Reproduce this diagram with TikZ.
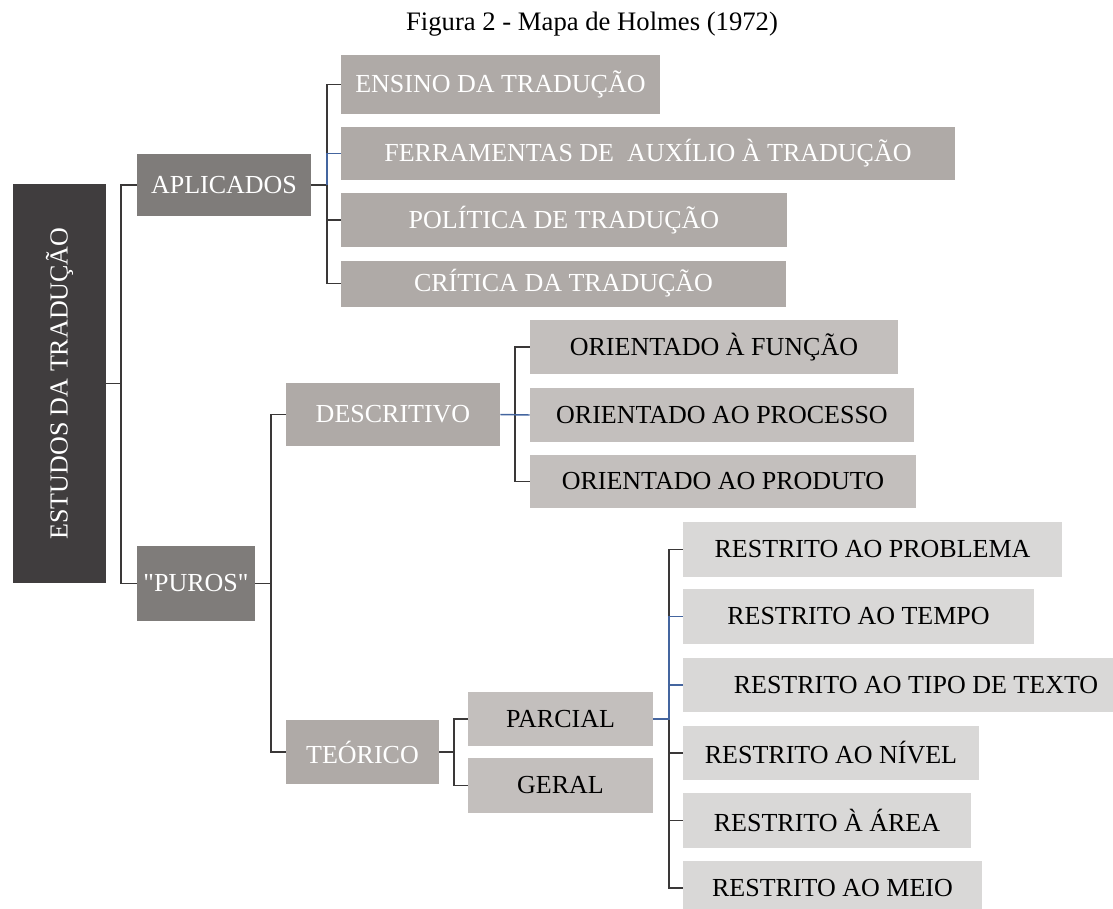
\documentclass[tikz,border=0pt]{standalone}
\usepackage{fontspec}
\setmainfont{Liberation Serif}
% same face without the TeX input mapping, so that " stays a straight quote
\newfontfamily\plainserif{Liberation Serif}
\begin{document}
\begin{tikzpicture}[x=0.75pt,y=-0.75pt,
  bx/.style 2 args={rectangle, inner sep=0pt, minimum width=#1*0.75pt, minimum height=#2*0.75pt, font=\fontsize{19.5}{23}\selectfont},
  lvA/.style={fill=cRoot, text=white},
  lvB/.style={fill=cOne, text=white},
  lvC/.style={fill=cTwo, text=white},
  lvD/.style={fill=cThree, text=black},
  lvE/.style={fill=cFour, text=black},
  link/.style={draw=cLine, line width=1.1pt},
  hilite/.style={draw=cBlue, line width=1.1pt}]
\definecolor{cRoot}{HTML}{403D3E}
\definecolor{cOne}{HTML}{7F7C7A}
\definecolor{cTwo}{HTML}{AFAAA7}
\definecolor{cThree}{HTML}{C3BFBD}
\definecolor{cFour}{HTML}{D9D8D7}
\definecolor{cLine}{HTML}{3A3838}
\definecolor{cBlue}{HTML}{44659F}

\useasboundingbox (0,0) rectangle (1113,908);

% title
\node[font=\fontsize{20}{24}\selectfont] (title) at (592,24) {Figura 2 - Mapa de Holmes (1972)};

% root and first level
\node[bx={93}{399}, lvA] (root) at (59.5,383.5) {};
\node[text=white, rotate=90, font=\fontsize{19.5}{23}\selectfont] (rootlabel) at (root.center) {ESTUDOS DA TRADUÇÃO};
\node[bx={174}{62}, lvB] (apl) at (224,185) {APLICADOS};
\node[bx={118}{75}, lvB] (puros) at (196,583.5) {\plainserif "PUROS"};

% applied branch
\node[bx={319}{59}, lvC] (ensino) at (500.5,84.5) {ENSINO DA TRADUÇÃO};
\node[bx={614}{53}, lvC] (ferr) at (648,153.5) {FERRAMENTAS DE \ AUXÍLIO À TRADUÇÃO};
\node[bx={446}{54}, lvC] (pol) at (564,220) {POLÍTICA DE TRADUÇÃO};
\node[bx={445}{46}, lvC] (crit) at (563.5,283.5) {CRÍTICA DA TRADUÇÃO};

% pure branch
\node[bx={214}{63}, lvC] (desc) at (393,414.5) {DESCRITIVO};
\node[bx={153}{64}, lvC] (teor) at (362.5,752) {TEÓRICO};

\node[bx={368}{54}, lvD] (func) at (714,347) {ORIENTADO À FUNÇÃO};
\node[bx={384}{54}, lvD] (proc) at (722,415) {ORIENTADO AO PROCESSO};
\node[bx={386}{53}, lvD] (prod) at (723,481.5) {ORIENTADO AO PRODUTO};

\node[bx={185}{54}, lvD] (parc) at (560.5,719) {PARCIAL};
\node[bx={185}{55}, lvD] (geral) at (560.5,785.5) {GERAL};

\node[bx={379}{55}, lvE] (r1) at (872.5,549.5) {RESTRITO AO PROBLEMA};
\node[bx={351}{55}, lvE] (r2) at (858.5,616.5) {RESTRITO AO TEMPO};
\node[bx={466}{54}, lvE] (r3) at (916,685) {RESTRITO AO TIPO DE TEXTO};
\node[bx={296}{54}, lvE] (r4) at (831,753) {RESTRITO AO NÍVEL};
\node[bx={288}{55}, lvE] (r5) at (827,820.5) {RESTRITO À ÁREA};
\node[bx={299}{54}, lvE] (r6) at (832.5,888) {RESTRITO AO MEIO};

% bus lines of the brackets
\coordinate (b0) at (121,0);
\coordinate (b1) at (327,0);
\coordinate (b2) at (271,0);
\coordinate (b3) at (515,0);
\coordinate (b4) at (454,0);
\coordinate (b5) at (669,0);

% root bracket
\draw[link] (root.east) -- (root.east -| b0);
\draw[link] (apl.west) -- (apl.west -| b0) |- (puros.west);

% applied bracket
\draw[link] (apl.east) -- (apl.east -| b1);
\draw[link] (ensino.west) -- (ensino.west -| b1) |- (crit.west);
\draw[link] (pol.west) -- (pol.west -| b1);
\draw[hilite] (apl.east -| b1) -- (ferr.west -| b1) -- (ferr.west);

% pure bracket
\draw[link] (puros.east) -- (puros.east -| b2);
\draw[link] (desc.west) -- (desc.west -| b2) |- (teor.west);

% descriptive bracket
\draw[link] (func.west) -- (func.west -| b3) |- (prod.west);
\draw[hilite] (desc.east) -- (proc.west);

% theoretical bracket
\draw[link] (teor.east) -- (teor.east -| b4);
\draw[link] (parc.west) -- (parc.west -| b4) |- (geral.west);

% partial bracket
\draw[link] (r1.west) -- (r1.west -| b5) |- (r6.west);
\draw[link] (r4.west) -- (r4.west -| b5);
\draw[link] (r5.west) -- (r5.west -| b5);
\draw[hilite] (parc.east) -- (parc.east -| b5) -- (r2.west -| b5) -- (r2.west);
\draw[hilite] (r3.west -| b5) -- (r3.west);
\end{tikzpicture}
\end{document}
